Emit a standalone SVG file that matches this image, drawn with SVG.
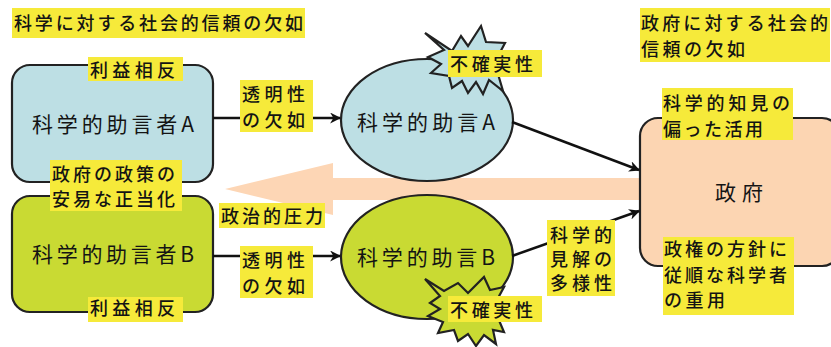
<svg xmlns="http://www.w3.org/2000/svg" width="831" height="347" viewBox="0 0 831 347">
<style>
  text { font-family: "Noto Sans CJK JP", "Noto Sans", sans-serif; fill: #141414; font-weight: 500; }
  .lbl { font-size: 18px; }
  .big { font-size: 21px; font-weight: 400; }
  .hl { fill: #f6ea3a; }
  .shape { stroke: #222; stroke-width: 2.2; }
  .blue { fill: #bddfe4; }
  .green { fill: #c9da33; }
  .peach { fill: #fcd5b2; }
  .conn { stroke: #111; stroke-width: 2.5; fill: none; marker-end: url(#arr); }
</style>
<defs>
  <marker id="arr" viewBox="0 0 10 10" refX="9" refY="5" markerWidth="11" markerHeight="11" markerUnits="userSpaceOnUse" orient="auto">
    <path d="M0,0 L10,5 L0,10 L3,5 z" fill="#111"/>
  </marker>
</defs>
<rect width="831" height="347" fill="#ffffff"/>

<g id="pressure-arrow">
  <polygon points="225,189 333,163 333,178 640,178 640,200 333,200 333,215" fill="#fdd6b5"/>
</g>

<g id="node-advisorA">
  <rect class="shape blue" x="12" y="65" width="201" height="117" rx="18"/>
  <text class="big" x="32" y="132" textLength="162" lengthAdjust="spacing">科学的助言者A</text>
</g>

<g id="node-advisorB">
  <rect class="shape green" x="12" y="196" width="201" height="116" rx="18"/>
  <text class="big" x="32" y="262" textLength="162" lengthAdjust="spacing">科学的助言者B</text>
</g>

<g id="node-adviceA">
  <ellipse class="shape blue" cx="427" cy="120" rx="86" ry="61"/>
  <polygon class="shape blue" points="425,33 452,51 461,36 468,46 481,26 486,42 505,43 497,58 512,66 498,74 503,91 489,80 483,94 476,82 468,93 462,81 452,88 449,76 431,73 441,64 428,57 444,50"/>
  <text class="big" x="357" y="130" textLength="138" lengthAdjust="spacing">科学的助言A</text>
</g>

<g id="node-adviceB">
  <ellipse class="shape green" cx="427" cy="257" rx="86" ry="62"/>
  <polygon class="shape green" points="425,279 444,291 458,283 468,293 484,277 490,290 504,287 497,300 508,308 498,318 504,332 493,330 496,344 484,335 476,346 468,334 458,341 454,330 438,333 443,322 428,316 440,309 430,303 440,296"/>
  <text class="big" x="357" y="265" textLength="138" lengthAdjust="spacing">科学的助言B</text>
</g>

<g id="node-government">
  <rect class="shape peach" x="640" y="118" width="200" height="148" rx="18"/>
  <text class="big" x="715" y="200" font-size="22" textLength="48" lengthAdjust="spacing">政府</text>
</g>

<g id="connectors">
  <line class="conn" x1="213" y1="118" x2="340" y2="118"/>
  <line class="conn" x1="213" y1="256" x2="340" y2="256"/>
  <line class="conn" x1="512" y1="122" x2="639" y2="170"/>
  <line class="conn" x1="512" y1="256" x2="639" y2="211"/>
</g>

<g id="label-trust-science">
  <rect class="hl" x="12" y="8" width="293" height="30"/>
  <text class="lbl" x="14" y="30" textLength="289" lengthAdjust="spacing">科学に対する社会的信頼の欠如</text>
</g>

<g id="label-trust-government">
  <rect class="hl" x="640" y="8" width="190" height="54"/>
  <text class="lbl" x="641" y="30" textLength="187" lengthAdjust="spacing">政府に対する社会的</text>
  <text class="lbl" x="641" y="56" textLength="104" lengthAdjust="spacing">信頼の欠如</text>
</g>

<g id="label-coi-A">
  <rect class="hl" x="88" y="57" width="95" height="24"/>
  <text class="lbl" x="90" y="77" textLength="85" lengthAdjust="spacing">利益相反</text>
</g>

<g id="label-coi-B">
  <rect class="hl" x="88" y="297" width="95" height="25"/>
  <text class="lbl" x="90" y="315" textLength="85" lengthAdjust="spacing">利益相反</text>
</g>

<g id="label-transparency-A">
  <rect class="hl" x="240" y="80" width="73" height="52"/>
  <text class="lbl" x="242" y="101" textLength="63" lengthAdjust="spacing">透明性</text>
  <text class="lbl" x="242" y="127" textLength="63" lengthAdjust="spacing">の欠如</text>
</g>

<g id="label-transparency-B">
  <rect class="hl" x="240" y="246" width="73" height="52"/>
  <text class="lbl" x="242" y="267" textLength="63" lengthAdjust="spacing">透明性</text>
  <text class="lbl" x="242" y="293" textLength="63" lengthAdjust="spacing">の欠如</text>
</g>

<g id="label-uncertainty-A">
  <rect class="hl" x="448" y="50" width="94" height="27"/>
  <text class="lbl" x="450" y="71" textLength="83" lengthAdjust="spacing">不確実性</text>
</g>

<g id="label-uncertainty-B">
  <rect class="hl" x="448" y="296" width="94" height="26"/>
  <text class="lbl" x="450" y="317" textLength="83" lengthAdjust="spacing">不確実性</text>
</g>

<g id="label-justification">
  <rect class="hl" x="50" y="160" width="132" height="51"/>
  <text class="lbl" x="52" y="181" textLength="123" lengthAdjust="spacing">政府の政策の</text>
  <text class="lbl" x="52" y="206" textLength="123" lengthAdjust="spacing">安易な正当化</text>
</g>

<g id="label-political-pressure">
  <rect class="hl" x="219" y="203" width="106" height="25"/>
  <text class="lbl" x="221" y="223" textLength="102" lengthAdjust="spacing">政治的圧力</text>
</g>

<g id="label-diversity">
  <rect class="hl" x="547" y="220" width="68" height="76"/>
  <text class="lbl" x="550" y="242" textLength="62" lengthAdjust="spacing">科学的</text>
  <text class="lbl" x="550" y="266" textLength="62" lengthAdjust="spacing">見解の</text>
  <text class="lbl" x="550" y="290" textLength="62" lengthAdjust="spacing">多様性</text>
</g>

<g id="label-biased-use">
  <rect class="hl" x="662" y="88" width="131" height="52"/>
  <text class="lbl" x="663" y="110" textLength="127" lengthAdjust="spacing">科学的知見の</text>
  <text class="lbl" x="663" y="136" textLength="100" lengthAdjust="spacing">偏った活用</text>
</g>

<g id="label-compliant">
  <rect class="hl" x="663" y="237" width="131" height="78"/>
  <text class="lbl" x="664" y="256" textLength="123" lengthAdjust="spacing">政権の方針に</text>
  <text class="lbl" x="664" y="282" textLength="123" lengthAdjust="spacing">従順な科学者</text>
  <text class="lbl" x="664" y="307" textLength="61" lengthAdjust="spacing">の重用</text>
</g>
</svg>
